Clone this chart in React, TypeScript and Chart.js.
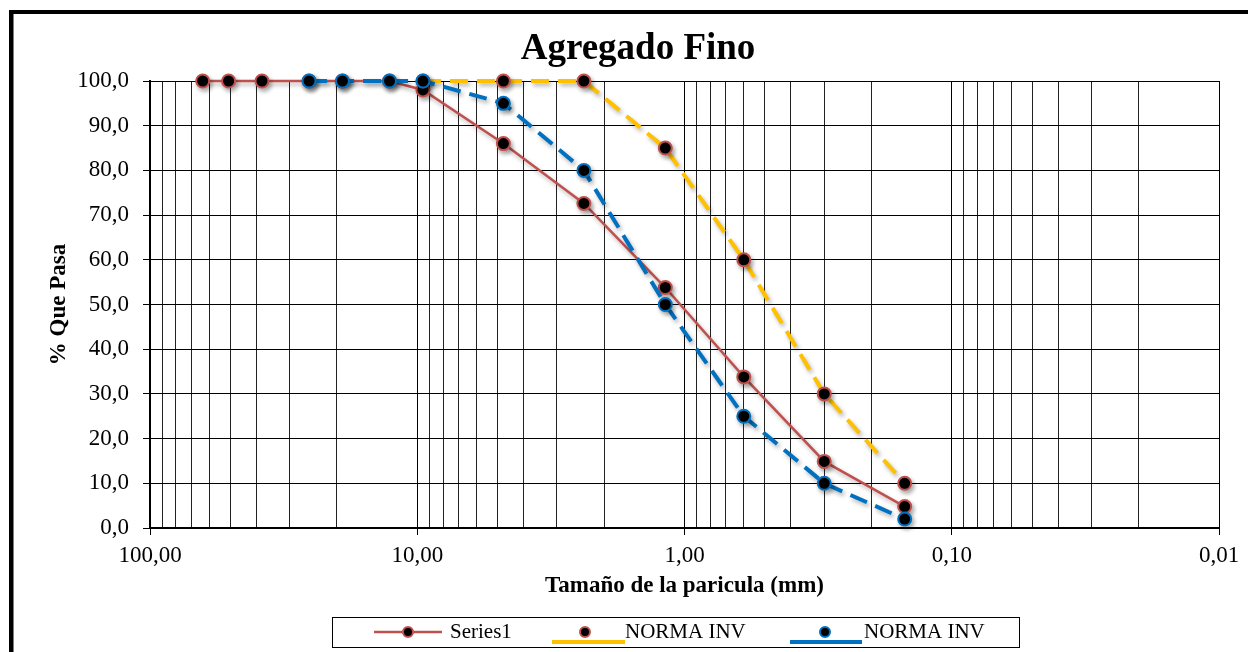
import React, { useEffect, useRef } from 'react';
import { Chart, registerables } from 'chart.js';

Chart.register(...registerables);

// ---- data ----
const sieveSizes = [63.5, 50.8, 38.1, 25.4, 19.05, 12.7, 9.52, 4.76, 2.38, 1.18, 0.6, 0.3, 0.15];
const series1 = [100, 100, 100, 100, 100, 100, 98, 86, 72.6, 53.8, 33.8, 14.9, 4.8];
const upperLimit = [null, null, null, null, null, null, 100, 100, 100, 85, 60, 30, 10];
const lowerLimit = [null, null, null, 100, 100, 100, 100, 95, 80, 50, 25, 10, 2];
const seriesNames = ['Series1', 'NORMA INV', 'NORMA INV'];
const xMajorTicks = [0.01, 0.1, 1, 10, 100];
const yTicks = [0, 10, 20, 30, 40, 50, 60, 70, 80, 90, 100];
const chartTitle = 'Agregado Fino';
const xTitle = 'Tamaño de la paricula (mm)';
const yTitle = '% Que Pasa';

const RED = '#C0504D';
const YELLOW = '#FFC000';
const BLUE = '#0070C0';
const FONT = "'Liberation Serif', 'Times New Roman', serif";

const toPoints = (vals: (number | null)[]) =>
  sieveSizes
    .map((x, i) => ({ x, y: vals[i] }))
    .filter((p) => p.y !== null) as { x: number; y: number }[];

const isMajor = (v: number) => xMajorTicks.some((m) => Math.abs(m - v) < m * 1e-6);

const gridValues: number[] = [];
for (let d = 0; d < xMajorTicks.length - 1; d++) {
  for (let m = 1; m <= 9; m++) gridValues.push(Number((xMajorTicks[d] * m).toPrecision(10)));
}
gridValues.push(xMajorTicks[xMajorTicks.length - 1]);

const drawMarker = (c: CanvasRenderingContext2D, x: number, y: number, border: string) => {
  c.beginPath();
  c.arc(x, y, 5, 0, Math.PI * 2);
  c.fillStyle = '#000';
  c.fill();
  c.lineWidth = 2;
  c.strokeStyle = border;
  c.stroke();
};

const framePlugin = {
  id: 'frame',
  beforeDraw(chart: any) {
    const c = chart.ctx as CanvasRenderingContext2D;
    c.save();
    c.fillStyle = '#fff';
    c.fillRect(0, 0, chart.width, chart.height);
    c.fillStyle = '#000';
    c.fillRect(9, 10, chart.width - 9, 4);
    c.fillRect(9, 10, 4.5, chart.height - 10);
    c.font = `bold 37px ${FONT}`;
    c.textAlign = 'center';
    c.textBaseline = 'alphabetic';
    c.fillText(chartTitle, 638, 59);
    c.restore();
  },
};

const shadowPlugin = {
  id: 'shadow',
  beforeDatasetsDraw(chart: any) {
    const c = chart.ctx as CanvasRenderingContext2D;
    c.save();
    c.shadowColor = 'rgba(0,0,0,0.3)';
    c.shadowBlur = 4;
    c.shadowOffsetX = 2;
    c.shadowOffsetY = 3;
  },
  afterDatasetsDraw(chart: any) {
    chart.ctx.restore();
  },
};

const legendPlugin = {
  id: 'boxLegend',
  afterDraw(chart: any) {
    const c = chart.ctx as CanvasRenderingContext2D;
    c.save();
    c.strokeStyle = '#000';
    c.lineWidth = 1;
    c.strokeRect(332.5, 617.5, 687, 30);
    const cy = 632;
    c.font = `21px ${FONT}`;
    c.textAlign = 'left';
    c.textBaseline = 'middle';
    // item 1
    c.strokeStyle = RED;
    c.lineWidth = 2.5;
    c.beginPath();
    c.moveTo(374, cy);
    c.lineTo(442, cy);
    c.stroke();
    drawMarker(c, 408, cy, RED);
    c.fillStyle = '#000';
    c.fillText(seriesNames[0], 450, cy);
    // item 2
    c.strokeStyle = YELLOW;
    c.lineWidth = 4;
    c.beginPath();
    c.moveTo(552, 642);
    c.lineTo(625, 642);
    c.stroke();
    drawMarker(c, 585, cy, RED);
    c.fillStyle = '#000';
    c.fillText(seriesNames[1], 625, cy);
    // item 3
    c.strokeStyle = BLUE;
    c.lineWidth = 4;
    c.beginPath();
    c.moveTo(790, 642);
    c.lineTo(862, 642);
    c.stroke();
    drawMarker(c, 825, cy, BLUE);
    c.fillStyle = '#000';
    c.fillText(seriesNames[2], 864, cy);
    c.restore();
  },
};

export default function App() {
  const ref = useRef<HTMLCanvasElement | null>(null);

  useEffect(() => {
    if (!ref.current) return;
    const chart = new Chart(ref.current, {
      type: 'line',
      data: {
        datasets: [
          {
            label: seriesNames[0],
            data: toPoints(series1),
            borderColor: RED,
            borderWidth: 2.5,
            pointRadius: 6.5,
            pointBorderWidth: 2,
            pointBackgroundColor: '#000',
            pointBorderColor: RED,
            tension: 0,
            clip: false,
            order: 3,
          } as any,
          {
            label: seriesNames[1],
            data: toPoints(upperLimit),
            borderColor: YELLOW,
            borderWidth: 4,
            borderDash: [18, 9],
            pointRadius: 6.5,
            pointBorderWidth: 2,
            pointBackgroundColor: '#000',
            pointBorderColor: RED,
            tension: 0,
            clip: false,
            order: 2,
          } as any,
          {
            label: seriesNames[2],
            data: toPoints(lowerLimit),
            borderColor: BLUE,
            borderWidth: 4,
            borderDash: [18, 9],
            pointRadius: 6.5,
            pointBorderWidth: 2,
            pointBackgroundColor: '#000',
            pointBorderColor: BLUE,
            tension: 0,
            clip: false,
            order: 1,
          } as any,
        ],
      },
      options: {
        responsive: false,
        animation: false,
        devicePixelRatio: 1,
        layout: { padding: { left: 14, right: 29, top: 81, bottom: 40 } },
        plugins: {
          legend: { display: false },
          tooltip: { enabled: false },
          title: { display: false },
        },
        scales: {
          x: {
            type: 'logarithmic',
            reverse: true,
            min: xMajorTicks[0],
            max: xMajorTicks[xMajorTicks.length - 1],
            afterBuildTicks: (axis: any) => {
              axis.ticks = gridValues.map((v) => ({ value: v, major: isMajor(v) }));
            },
            afterFit: (axis: any) => {
              axis.height = 84;
            },
            ticks: {
              autoSkip: false,
              maxRotation: 0,
              minRotation: 0,
              padding: 7,
              color: '#000',
              font: { family: FONT, size: 23 },
              callback: (value: any) => {
                const v = Number(value);
                return isMajor(v) ? v.toFixed(2).replace('.', ',') : '';
              },
            },
            grid: {
              color: (ctx: any) => (ctx.tick && isMajor(ctx.tick.value) ? '#000' : '#222'),
              lineWidth: 1,
              tickLength: 7,
              tickColor: (ctx: any) => (ctx.tick && isMajor(ctx.tick.value) ? '#000' : 'rgba(0,0,0,0)'),
            },
            border: { display: true, color: '#000', width: 2 },
            title: {
              display: true,
              text: xTitle,
              color: '#000',
              font: { family: FONT, size: 23, weight: 'bold' },
              padding: { top: 0, bottom: 12 },
            },
          } as any,
          y: {
            type: 'linear',
            min: yTicks[0],
            max: yTicks[yTicks.length - 1],
            afterBuildTicks: (axis: any) => {
              axis.ticks = yTicks.map((v) => ({ value: v }));
            },
            afterFit: (axis: any) => {
              axis.width = 136;
            },
            ticks: {
              padding: 14,
              color: '#000',
              font: { family: FONT, size: 23 },
              callback: (value: any) => Number(value).toFixed(1).replace('.', ','),
            },
            grid: {
              color: '#000',
              lineWidth: 1,
              tickLength: 7,
              tickColor: '#000',
            },
            border: { display: true, color: '#000', width: 2 },
            title: {
              display: true,
              text: yTitle,
              color: '#000',
              font: { family: FONT, size: 23, weight: 'bold' },
              padding: { top: 31, bottom: 0 },
            },
          } as any,
        },
      },
      plugins: [framePlugin, shadowPlugin, legendPlugin],
    });
    return () => chart.destroy();
  }, []);

  return (
    <canvas
      ref={ref}
      width={1248}
      height={652}
      style={{ position: 'absolute', left: 0, top: 0, width: 1248, height: 652 }}
    />
  );
}
